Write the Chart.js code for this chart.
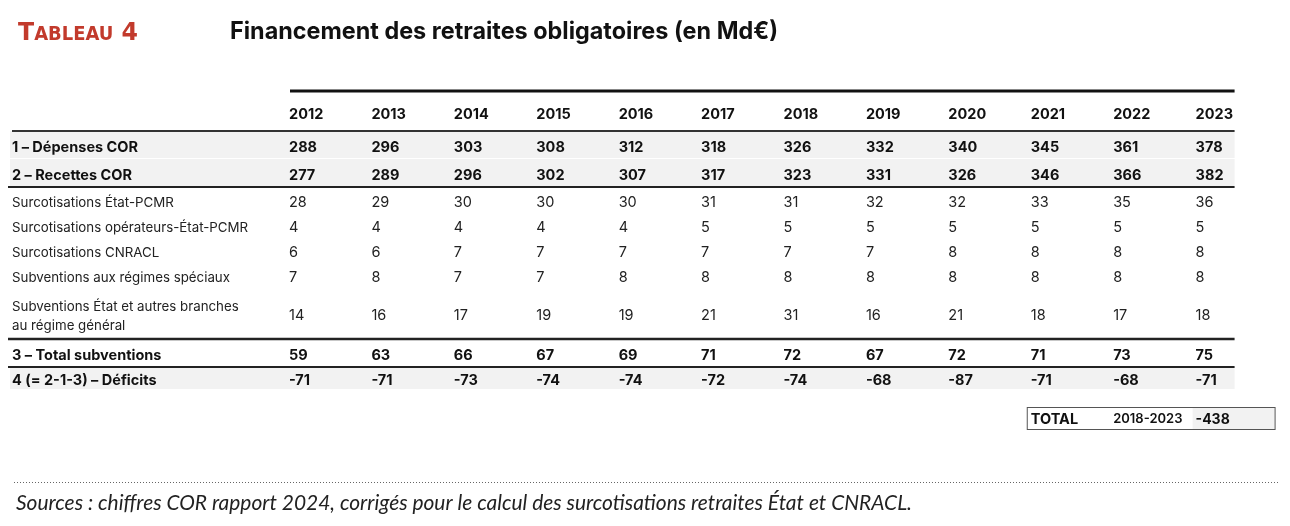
<!DOCTYPE html>
<html lang="fr">
<head>
<meta charset="utf-8">
<title>Financement des retraites obligatoires</title>
<script src="https://cdn.jsdelivr.net/npm/chart.js@4.4.1/dist/chart.umd.min.js"></script>
<style>
  html, body { margin: 0; padding: 0; background: #fff; }
  canvas { display: block; }
</style>
</head>
<body>
<canvas id="tableChart" width="1290" height="526"></canvas>
<script>
// --- DONNÉES (Md€) ---
const YEARS = ['2012', '2013', '2014', '2015', '2016', '2017', '2018', '2019', '2020', '2021', '2022', '2023'];

const ROW_LABELS = [
    ['1 – Dépenses COR'],
    ['2 – Recettes COR'],
    ['Surcotisations État-PCMR'],
    ['Surcotisations opérateurs-État-PCMR'],
    ['Surcotisations CNRACL'],
    ['Subventions aux régimes spéciaux'],
    ['Subventions État et autres branches', 'au régime général'],
    ['3 – Total subventions'],
    ['4 (= 2-1-3) – Déficits']
];

const DEPENSES      = [288, 296, 303, 308, 312, 318, 326, 332, 340, 345, 361, 378];
const RECETTES      = [277, 289, 296, 302, 307, 317, 323, 331, 326, 346, 366, 382];
const SURCOT_ETAT   = [28, 29, 30, 30, 30, 31, 31, 32, 32, 33, 35, 36];
const SURCOT_OPER   = [4, 4, 4, 4, 4, 5, 5, 5, 5, 5, 5, 5];
const SURCOT_CNRACL = [6, 6, 7, 7, 7, 7, 7, 7, 8, 8, 8, 8];
const SUBV_SPECIAUX = [7, 8, 7, 7, 8, 8, 8, 8, 8, 8, 8, 8];
const SUBV_GENERAL  = [14, 16, 17, 19, 19, 21, 31, 16, 21, 18, 17, 18];
const TOTAL_SUBV    = [59, 63, 66, 67, 69, 71, 72, 67, 72, 71, 73, 75];
const DEFICITS      = [-71, -71, -73, -74, -74, -72, -74, -68, -87, -71, -68, -71];

const TOTAL_LABEL   = 'TOTAL';
const TOTAL_PERIOD  = '2018-2023';
const TOTAL_DEFICIT = -438;

const TITLE_TAG = 'Tableau 4';
const TITLE     = 'Financement des retraites obligatoires (en Md€)';
const SOURCE    = 'Sources : chiffres COR rapport 2024, corrigés pour le calcul des surcotisations retraites État et CNRACL.';

const SERIES = [DEPENSES, RECETTES, SURCOT_ETAT, SURCOT_OPER, SURCOT_CNRACL, SUBV_SPECIAUX, SUBV_GENERAL, TOTAL_SUBV, DEFICITS];

// --- MISE EN PAGE (style, pas des données) ---
const FONT = 'Inter, "Open Sans", sans-serif';
const ROW_H = [39, 28, 28, 26, 25, 25, 25, 51, 28, 23];   // 0 = ligne des années
const BOLD_ROWS = [true, true, false, false, false, false, false, true, true];
const SHADED_ROWS = [0, 1, 8];
const RED = '#c23a2c';
const LABEL_X = 12;
const TEXT_DY = 2.5;

const rowStart = [];
ROW_H.reduce((acc, h, i) => { rowStart[i] = acc; return acc + h; }, 0);
const TOTAL_H = ROW_H.reduce((a, b) => a + b, 0);

function fitText(ctx, text, x, y, width) {
    const w = ctx.measureText(text).width;
    ctx.save();
    ctx.translate(x, y);
    ctx.scale(width / w, 1);
    ctx.fillText(text, 0, 0);
    ctx.restore();
}

// --- PLUGIN : dessin du tableau ---
const tablePlugin = {
    id: 'tablePlugin',
    afterDraw(chart) {
        const { ctx, scales: { x, y } } = chart;
        const colW = x.getPixelForValue(1) - x.getPixelForValue(0);
        const colLeft = i => x.getPixelForValue(i) - colW / 2;
        const rowTop = r => y.getPixelForValue(rowStart[r]);
        const rowMid = r => y.getPixelForValue(rowStart[r] + ROW_H[r] / 2);
        const right = colLeft(YEARS.length - 1) + 39;

        ctx.save();

        // fonds gris
        ctx.fillStyle = '#f2f2f2';
        SHADED_ROWS.forEach(r => {
            const ri = r + 1;
            ctx.fillRect(10, rowTop(ri), right - 10, ROW_H[ri] - 1);
        });

        // filets
        const hline = (x0, yy, w, color) => {
            ctx.beginPath();
            ctx.strokeStyle = color;
            ctx.lineWidth = w;
            ctx.moveTo(x0, yy);
            ctx.lineTo(right, yy);
            ctx.stroke();
        };
        hline(colLeft(0) + 1, rowTop(0) - 1, 3, '#111');
        hline(LABEL_X, rowTop(1), 2, '#333');
        hline(8, rowTop(3), 2, '#222');
        hline(8, rowTop(8), 2.5, '#222');
        hline(8, rowTop(9), 2, '#222');

        // années
        ctx.fillStyle = '#111';
        ctx.textBaseline = 'middle';
        ctx.textAlign = 'left';
        ctx.font = `bold 14.5px ${FONT}`;
        YEARS.forEach((yr, i) => ctx.fillText(yr, colLeft(i), rowMid(0) + 3));

        // lignes
        chart.data.datasets.forEach((ds, r) => {
            const ri = r + 1;
            const mid = rowMid(ri) + TEXT_DY;
            const bold = BOLD_ROWS[r];
            ctx.fillStyle = bold ? '#111' : '#222';
            ctx.font = bold ? `bold 14.5px ${FONT}` : `13.3px ${FONT}`;
            const lines = ROW_LABELS[r];
            if (lines.length === 1) {
                ctx.fillText(lines[0], LABEL_X, mid);
            } else {
                ctx.fillText(lines[0], LABEL_X, mid - 9.5);
                ctx.fillText(lines[1], LABEL_X, mid + 9.5);
            }
            ctx.font = bold ? `bold 14.5px ${FONT}` : `14.5px ${FONT}`;
            const meta = chart.getDatasetMeta(r);
            ds.data.forEach((v, i) => {
                const px = meta.data[i] ? meta.data[i].x - colW / 2 : colLeft(i);
                ctx.fillText(String(v), px, mid);
            });
        });

        // encadré total
        const bx = colLeft(9) - 4, by = 407, bw = right + 40 - bx, bh = 22;
        ctx.fillStyle = '#f2f2f2';
        ctx.fillRect(colLeft(11) - 3, by, right + 40 - colLeft(11) + 3, bh);
        ctx.strokeStyle = '#555';
        ctx.lineWidth = 1;
        ctx.strokeRect(bx + 0.5, by + 0.5, bw, bh);
        ctx.fillStyle = '#111';
        ctx.font = `bold 14.5px ${FONT}`;
        ctx.fillText(TOTAL_LABEL, colLeft(9), by + bh / 2 + 1.5);
        ctx.font = `600 13px ${FONT}`;
        ctx.fillText(TOTAL_PERIOD, colLeft(10), by + bh / 2 + 1.5);
        ctx.font = `bold 14px ${FONT}`;
        ctx.fillText(String(TOTAL_DEFICIT), colLeft(11), by + bh / 2 + 1.5);

        // titre
        ctx.fillStyle = RED;
        ctx.textBaseline = 'alphabetic';
        const bigF = `bold 25px "DejaVu Sans Condensed", ${FONT}`;
        const smallF = `bold 19px "DejaVu Sans Condensed", ${FONT}`;
        const parts = [
            [TITLE_TAG[0].toUpperCase(), bigF],
            [TITLE_TAG.slice(1, -2).toUpperCase(), smallF],
            [TITLE_TAG.slice(-2), bigF]
        ];
        let tagW = 0;
        parts.forEach(([t, f]) => { ctx.font = f; tagW += ctx.measureText(t).width; });
        ctx.save();
        ctx.translate(18, 40);
        ctx.scale(120 / tagW, 1);
        let tx = 0;
        parts.forEach(([t, f]) => { ctx.font = f; ctx.fillText(t, tx, 0); tx += ctx.measureText(t).width; });
        ctx.restore();

        ctx.fillStyle = '#111';
        ctx.font = `bold 24px ${FONT}`;
        fitText(ctx, TITLE, 230, 39, 548);

        // pointillés + source
        ctx.strokeStyle = '#666';
        ctx.lineWidth = 1;
        ctx.setLineDash([1, 2]);
        ctx.beginPath();
        ctx.moveTo(14, 482.5);
        ctx.lineTo(1280, 482.5);
        ctx.stroke();
        ctx.setLineDash([]);

        ctx.fillStyle = '#222';
        ctx.font = `italic 22px Lato, ${FONT}`;
        fitText(ctx, SOURCE, 16, 510, 896);

        ctx.restore();
    }
};

const ctx = document.getElementById('tableChart').getContext('2d');
new Chart(ctx, {
    type: 'line',
    data: {
        labels: YEARS,
        datasets: SERIES.map((values, r) => ({
            label: ROW_LABELS[r].join(' '),
            data: values,
            showLine: false,
            pointRadius: 0,
            pointHoverRadius: 0
        }))
    },
    options: {
        responsive: false,
        animation: false,
        events: [],
        layout: { padding: { top: 92, bottom: 526 - 92 - TOTAL_H, left: 289, right: 12 } },
        scales: {
            x: { type: 'category', offset: true, display: false },
            y: { type: 'linear', reverse: true, min: 0, max: TOTAL_H, display: false }
        },
        plugins: {
            legend: { display: false },
            tooltip: { enabled: false }
        }
    },
    plugins: [tablePlugin]
});
</script>
</body>
</html>
